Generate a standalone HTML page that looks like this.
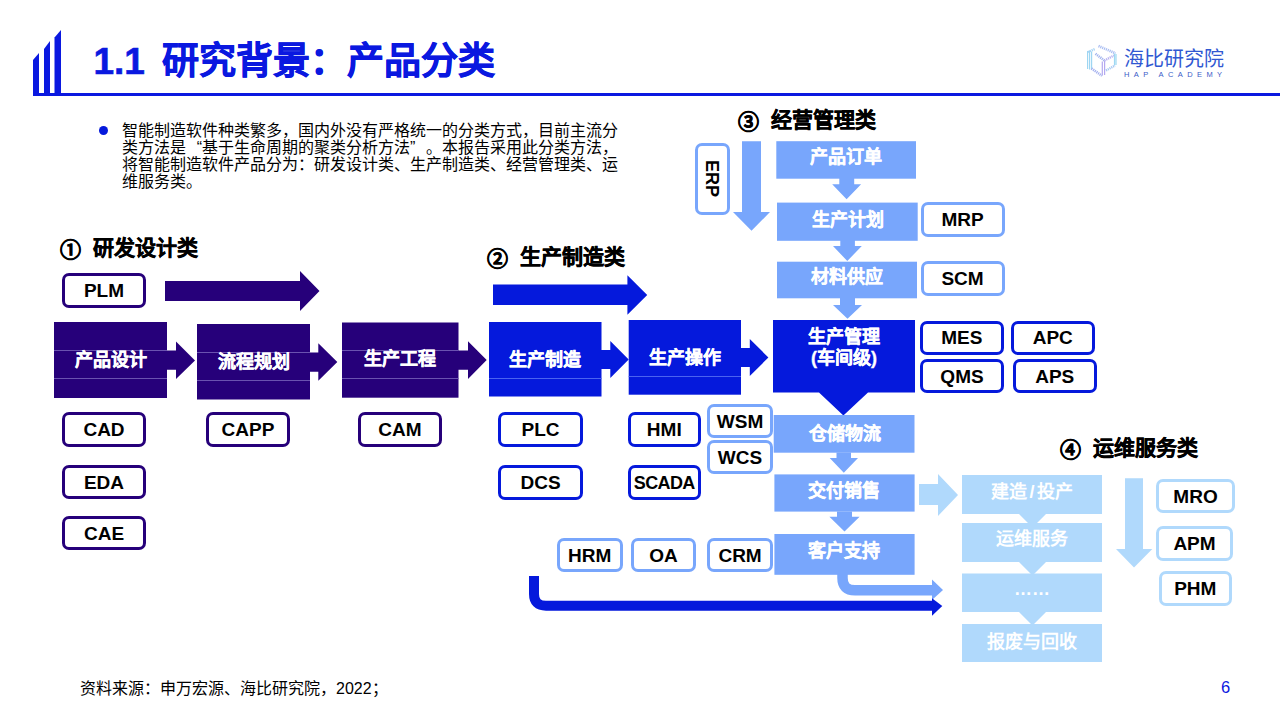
<!DOCTYPE html>
<html lang="zh-CN"><head><meta charset="utf-8">
<style>
*{margin:0;padding:0;box-sizing:border-box}
html,body{width:1280px;height:720px;overflow:hidden;background:#fff}
body{position:relative;font-family:"Liberation Sans",sans-serif;color:#000}
.a{position:absolute}
svg.bg{position:absolute;left:0;top:0}
.blk{position:absolute;color:#fff;font-weight:bold;-webkit-text-stroke:0.35px #fff;font-size:18px;display:flex;align-items:center;justify-content:center;text-align:center;line-height:20px;white-space:nowrap}
.tag{position:absolute;background:#fff;border:3px solid #26007a;border-radius:7px;padding-top:1.5px;font-weight:bold;font-size:19px;display:flex;align-items:center;justify-content:center;white-space:nowrap;color:#000}
.tb{border-color:#0519dc}
.tl{border-color:#78a6fc}
.tv{border-color:#b0d9fc}
.sec{position:absolute;font-weight:bold;-webkit-text-stroke:0.4px #000;font-size:21px;white-space:nowrap;line-height:24px}
</style></head><body>
<svg class="bg" width="1280" height="720" viewBox="0 0 1280 720">
  <!-- header bars -->
  <g fill="#0a18e0">
    <polygon points="33,60 39,53 39,96 33,96"/>
    <polygon points="44,49 50,41 50,96 44,96"/>
    <polygon points="54.5,37.5 61,30 61,96 54.5,96"/>
    <rect x="33" y="93" width="1247" height="3"/>
  </g>
  <!-- purple big arrow -->
  <polygon fill="#26007a" points="165,281 300,281 300,271 319.5,291 300,311 300,301 165,301"/>
  <!-- blue big arrow -->
  <polygon fill="#0519dc" points="493,284.6 627.4,284.6 627.4,275.3 647.2,295 627.4,314.8 627.4,305 493,305"/>

  <!-- purple blocks -->
  <g fill="#26007a">
    <rect x="54" y="322" width="113" height="76"/>
    <polygon points="166,350.4 176,350.4 176,341.5 195,360.5 176,379 176,369.8 166,369.8"/>
    <rect x="197" y="324" width="113" height="75.5"/>
    <polygon points="309,352.5 318.3,352.5 318.3,343.2 337.3,362 318.3,380.7 318.3,371.7 309,371.7"/>
    <rect x="342" y="322.5" width="116.5" height="75.2"/>
    <polygon points="458,350.4 468,350.4 468,341.3 486.7,360 468,379 468,369.8 458,369.8"/>
  </g>
  <g stroke="#6a52b0" stroke-width="1">
    <line x1="54" y1="350.5" x2="167" y2="350.5"/><line x1="54" y1="378.5" x2="167" y2="378.5"/>
    <line x1="197" y1="352.5" x2="310" y2="352.5"/><line x1="197" y1="380.5" x2="310" y2="380.5"/>
    <line x1="342" y1="350.5" x2="458.5" y2="350.5"/><line x1="342" y1="378.5" x2="458.5" y2="378.5"/>
  </g>
  <!-- blue blocks -->
  <g fill="#0519dc">
    <rect x="489" y="322" width="112.5" height="74.5"/>
    <polygon points="601,350 610.3,350 610.3,341 628.7,359.5 610.3,378 610.3,369 601,369"/>
    <rect x="628.7" y="320" width="112.3" height="74.7"/>
    <polygon points="741,348 749.8,348 749.8,339 768.4,357.5 749.8,376 749.8,367 741,367"/>
    <polygon points="773,320 915,320 915,392.5 868,392.5 843.4,415.5 819,392.5 773,392.5"/>
  </g>
  <g stroke="#4a62f0" stroke-width="1">
    <line x1="489" y1="378.5" x2="601.5" y2="378.5"/>
    <line x1="628.7" y1="376.5" x2="741" y2="376.5"/>
  </g>

  <!-- light blue column -->
  <g fill="#78a6fc">
    <polygon points="742,141.3 761,141.3 761,212 770,212 751.5,230.8 733,212 742,212"/>
    <rect x="776.3" y="141.2" width="139.7" height="37.5"/>
    <polygon points="839.3,178 854.2,178 854.2,184.2 861.1,184.2 846.6,199.2 832.2,184.2 839.3,184.2"/>
    <rect x="777" y="202.6" width="140.7" height="38.2"/>
    <polygon points="840.3,240 854.9,240 854.9,246 861.8,246 847.3,261 833,246 840.3,246"/>
    <rect x="777" y="261.7" width="140" height="36.6"/>
    <polygon points="840,298 855,298 855,305 862,305 847.5,318.7 833,305 840,305"/>
    <rect x="773.7" y="415" width="140.8" height="37.7"/>
    <polygon points="836.5,452.5 851,452.5 851,458 858,458 843.8,472.7 829.7,458 836.5,458"/>
    <rect x="774.4" y="474.4" width="140.2" height="37.2"/>
    <polygon points="837,511.5 852,511.5 852,516.7 859.6,516.7 844.5,531.5 829.4,516.7 837,516.7"/>
    <rect x="774.4" y="534" width="140.2" height="40.8"/>
  </g>
  <!-- curved light arrow -->
  <path d="M842.5,574 L842.5,578 Q842.5,590.3 855,590.3 L933,590.3" fill="none" stroke="#78a6fc" stroke-width="10.5"/>
  <polygon fill="#78a6fc" points="932,579.5 943,590 932,600"/>
  <!-- dark blue L arrow -->
  <path d="M534,576 L534,594 Q534,605.7 546,605.7 L933,605.7" fill="none" stroke="#0519dc" stroke-width="10"/>
  <polygon fill="#0519dc" points="932,598.3 942.3,606 932,615.8"/>

  <!-- very light -->
  <g fill="#b0d9fc">
    <polygon points="919,484 938,484 938,474 958,495 938,516 938,505 919,505"/>
    <path d="M962,475 H1102 V514 H1046 L1032.5,527.5 L1019,514 H962 Z"/>
    <path d="M962,523 H1102 V562 H1046 L1032.5,575.5 L1019,562 H962 Z"/>
    <path d="M962,573.5 H1102 V612 H1046 L1032.5,625.5 L1019,612 H962 Z"/>
    <rect x="962" y="624" width="140" height="38"/>
    <polygon points="1125,478.3 1143,478.3 1143,549 1152.3,549 1134,567.5 1116,549 1125,549"/>
  </g>
</svg>

<!-- Title -->
<div class="a" style="left:93.5px;top:40px;font-size:37px;font-weight:bold;-webkit-text-stroke:0.6px #0a18e0;color:#0a18e0;line-height:44px;white-space:nowrap">1.1<span style="margin-left:7px"> </span>研究背景：产品分类</div>

<!-- logo -->
<svg class="a" style="left:1080px;top:38px" width="45" height="45" viewBox="0 0 45 45">
  <g fill="none" stroke-width="1.2" opacity="1">
    <path d="M7.6,13 V31 M9.6,12.5 V31.5 M11.6,13.5 V31" stroke="#9ed6f2"/>
    <path d="M8,14 L15,11" stroke="#a6d2f4" stroke-width="2.4" stroke-dasharray="1.2 0.8"/>
    <path d="M18.5,8 L35.5,15.3" stroke="#a9bdf2" stroke-width="2.6" stroke-dasharray="1.2 0.8"/>
    <path d="M15.5,15.8 L24.4,22.5" stroke="#a2b4ee" stroke-width="2.6" stroke-dasharray="1.2 0.8"/>
    <path d="M24.4,22.5 L34,17.5" stroke="#b6b0f0" stroke-width="2.4" stroke-dasharray="1.2 0.8"/>
    <path d="M34.5,15.5 V27.5 M36,16 V27" stroke="#9ed8f2"/>
    <path d="M22.3,23.5 V37.5 M24.6,23 V37" stroke="#b4a8f0"/>
    <path d="M11.5,30.5 L22,37.8" stroke="#a4b0ee" stroke-width="2.6" stroke-dasharray="1.2 0.8"/>
    <path d="M26,32.5 L35,27.5" stroke="#a6c8f2" stroke-width="2.4" stroke-dasharray="1.2 0.8"/>
  </g>
</svg>
<div class="a" style="left:1124px;top:46.5px;font-size:20px;line-height:24px;color:#3158d2;white-space:nowrap">海比研究院</div>
<div class="a" style="left:1124px;top:70.5px;font-size:7.5px;line-height:8px;letter-spacing:4.4px;color:#3a5cc8;white-space:nowrap">HAP ACADEMY</div>

<!-- bullet -->
<div class="a" style="left:98.8px;top:125.6px;width:9.4px;height:9.4px;border-radius:50%;background:#0519dc"></div>
<div class="a" style="left:122px;top:121.5px;font-size:16px;line-height:17.3px;white-space:nowrap">智能制造软件种类繁多，国内外没有严格统一的分类方式，目前主流分<br>类方法是<span style="display:inline-block;width:16px;text-align:right">“</span>基于生命周期的聚类分析方法<span style="display:inline-block;width:16px;text-align:left">”</span>。本报告采用此分类方法，<br>将智能制造软件产品分为：研发设计类、生产制造类、经营管理类、运<br>维服务类。</div>

<div class="sec" style="left:60px;top:236px"><span style="margin-right:12px;position:relative;top:1.5px">①</span>研发设计类</div>
<div class="sec" style="left:487px;top:245px"><span style="margin-right:12px;position:relative;top:1.5px">②</span>生产制造类</div>
<div class="sec" style="left:738px;top:108px"><span style="margin-right:12px;position:relative;top:1.5px">③</span>经营管理类</div>
<div class="sec" style="left:1060px;top:436px"><span style="margin-right:12px;position:relative;top:1.5px">④</span>运维服务类</div>

<div class="tag" style="left:62px;top:273px;width:84px;height:35px">PLM</div>

<!-- block texts -->
<div class="blk" style="left:54px;top:346px;width:113px;height:28px">产品设计</div>
<div class="blk" style="left:197px;top:348px;width:113px;height:28px">流程规划</div>
<div class="blk" style="left:342px;top:344.5px;width:116px;height:28px">生产工程</div>
<div class="blk" style="left:489px;top:346px;width:112px;height:28px">生产制造</div>
<div class="blk" style="left:629px;top:344px;width:112px;height:28px">生产操作</div>
<div class="blk" style="left:773px;top:325px;width:142px;height:45px;line-height:21px">生产管理<br>(车间级)</div>
<div class="blk" style="left:776px;top:138px;width:140px;height:37px">产品订单</div>
<div class="blk" style="left:777px;top:201px;width:141px;height:38px">生产计划</div>
<div class="blk" style="left:777px;top:259px;width:140px;height:36px">材料供应</div>
<div class="blk" style="left:774px;top:414.5px;width:141px;height:38px">仓储物流</div>
<div class="blk" style="left:774px;top:472.5px;width:140px;height:37px">交付销售</div>
<div class="blk" style="left:774px;top:532px;width:140px;height:38px">客户支持</div>
<div class="blk" style="-webkit-text-stroke:0;left:962px;top:472.5px;width:140px;height:39px">建造<span style="margin:0 2px">/</span>投产</div>
<div class="blk" style="-webkit-text-stroke:0;left:962px;top:523px;width:140px;height:32px">运维服务</div>
<div class="blk" style="-webkit-text-stroke:0;left:962px;top:569px;width:140px;height:39px">……</div>
<div class="blk" style="-webkit-text-stroke:0;left:962px;top:626px;width:140px;height:32px">报废与回收</div>

<!-- tags -->
<div class="tag" style="left:62px;top:411.5px;width:84px;height:35px">CAD</div>
<div class="tag" style="left:206px;top:411.5px;width:84px;height:35px">CAPP</div>
<div class="tag" style="left:358px;top:411.5px;width:84px;height:35px">CAM</div>
<div class="tag" style="left:62px;top:465px;width:84px;height:34px">EDA</div>
<div class="tag" style="left:62px;top:515.5px;width:84px;height:34.5px">CAE</div>

<div class="tag tb" style="left:498px;top:411.5px;width:85px;height:35px">PLC</div>
<div class="tag tb" style="left:498px;top:465px;width:85px;height:35px">DCS</div>
<div class="tag tb" style="left:627.5px;top:411.5px;width:73.5px;height:35px">HMI</div>
<div class="tag tb" style="left:627.5px;top:465px;width:73.5px;height:35px;font-size:18px;letter-spacing:-0.6px">SCADA</div>
<div class="tag tl" style="left:707px;top:404px;width:66px;height:34px">WSM</div>
<div class="tag tl" style="left:707px;top:440px;width:66px;height:33.5px">WCS</div>

<div class="tag tl" style="left:694.5px;top:142.5px;width:35.5px;height:72px"><span style="display:inline-block;font-size:18px;transform:translate(-1.5px,-1px) rotate(90deg)">ERP</span></div>
<div class="tag tl" style="left:920.5px;top:202px;width:84px;height:34.5px">MRP</div>
<div class="tag tl" style="left:920.5px;top:261.3px;width:84px;height:34.7px">SCM</div>

<div class="tag tb" style="left:920px;top:320.6px;width:83.5px;height:34.2px">MES</div>
<div class="tag tb" style="left:1011px;top:320.6px;width:83.5px;height:34.2px">APC</div>
<div class="tag tb" style="left:920px;top:359px;width:84px;height:34.4px">QMS</div>
<div class="tag tb" style="left:1013px;top:359px;width:83.5px;height:34.4px">APS</div>

<div class="tag tl" style="left:557px;top:538px;width:65.5px;height:33.7px">HRM</div>
<div class="tag tl" style="left:630.7px;top:538px;width:65.5px;height:33.7px">OA</div>
<div class="tag tl" style="left:707.3px;top:538px;width:65.5px;height:33.7px">CRM</div>

<div class="tag tv" style="left:1156px;top:479px;width:79px;height:34px">MRO</div>
<div class="tag tv" style="left:1156px;top:526px;width:77px;height:34.6px">APM</div>
<div class="tag tv" style="left:1158.6px;top:571px;width:73.4px;height:34.7px">PHM</div>

<!-- footer -->
<div class="a" style="left:80px;top:679px;font-size:16px;line-height:20px;white-space:nowrap">资料来源：申万宏源、海比研究院，2022；</div>
<div class="a" style="left:1221px;top:677px;font-size:16.5px;line-height:20px;color:#0a18e0">6</div>
</body></html>
